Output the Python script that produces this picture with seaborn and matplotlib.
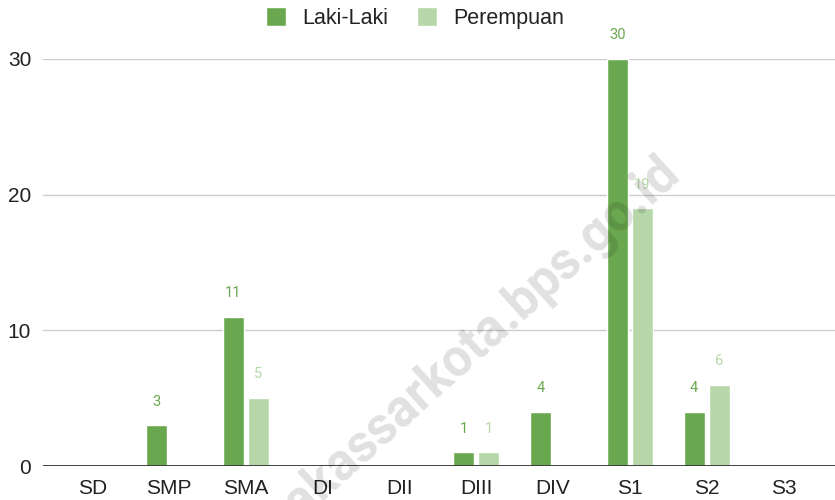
import matplotlib
matplotlib.use("Agg")
import matplotlib.pyplot as plt
import seaborn as sns
import pandas as pd
from matplotlib.patches import Patch

categories = ["SD", "SMP", "SMA", "DI", "DII", "DIII", "DIV", "S1", "S2", "S3"]
laki = [0, 3, 11, 0, 0, 1, 4, 30, 4, 0]
perempuan = [0, 0, 5, 0, 0, 1, 0, 19, 6, 0]
series = ["Laki-Laki", "Perempuan"]
colors = ["#6aa84f", "#b6d7a8"]
yticks = [0, 10, 20, 30]

df = pd.DataFrame({
    "kategori": categories * 2,
    "jumlah": laki + perempuan,
    "jenis": [series[0]] * len(categories) + [series[1]] * len(categories),
})

sns.set_style("white")
plt.rcParams["font.family"] = ["Liberation Sans", "DejaVu Sans"]

fig = plt.figure(figsize=(8.35, 5), dpi=100)
ax = fig.add_axes([43 / 835, 1 - 466 / 500, 1 - 43 / 835, (466 - 59) / 500])

sns.barplot(data=df, x="kategori", y="jumlah", hue="jenis", order=categories,
            hue_order=series, palette=colors, width=0.65, gap=0.17,
            saturation=1, legend=False, ax=ax, zorder=2)

ax.set_xlim(-0.64, 9.67)
ax.set_ylim(0, 30)
ax.set_yticks(yticks)
ax.grid(axis="y", color="#cccccc", lw=1, zorder=0)
ax.axhline(0, color="#333333", lw=1.3, zorder=3)
for s in ax.spines.values():
    s.set_visible(False)
ax.tick_params(axis="both", length=0, labelsize=15, colors="#222222")
ax.tick_params(axis="x", pad=9)
ax.tick_params(axis="y", pad=8.5)
ax.set_xlabel("")
ax.set_ylabel("")

# value labels above bars
for cont, col in zip(ax.containers, colors):
    for bar in cont:
        h = bar.get_height()
        if h > 0:
            ax.annotate(f"{int(h)}", (bar.get_x() + bar.get_width() / 2, h),
                        xytext=(0, 12), textcoords="offset points",
                        ha="center", va="bottom", fontsize=10.5, color=col,
                        family="Roboto", annotation_clip=False)

handles = [Patch(facecolor=c, label=l) for c, l in zip(colors, series)]
fig.legend(handles=handles, loc="center", bbox_to_anchor=(0.497, 1 - 18 / 500),
           ncol=2, frameon=False, fontsize=15.5, handlelength=0.95,
           handleheight=0.95, handletextpad=0.75, columnspacing=1.3,
           labelcolor="#222222")

# watermark
fig.text(682 / 835, 1 - 176 / 500, "makassarkota.bps.go.id", rotation=42,
         rotation_mode="anchor", ha="right", va="baseline", fontsize=37,
         fontweight="bold", family="Roboto", color="black", alpha=0.12)

fig.savefig("out.png", dpi=100)
